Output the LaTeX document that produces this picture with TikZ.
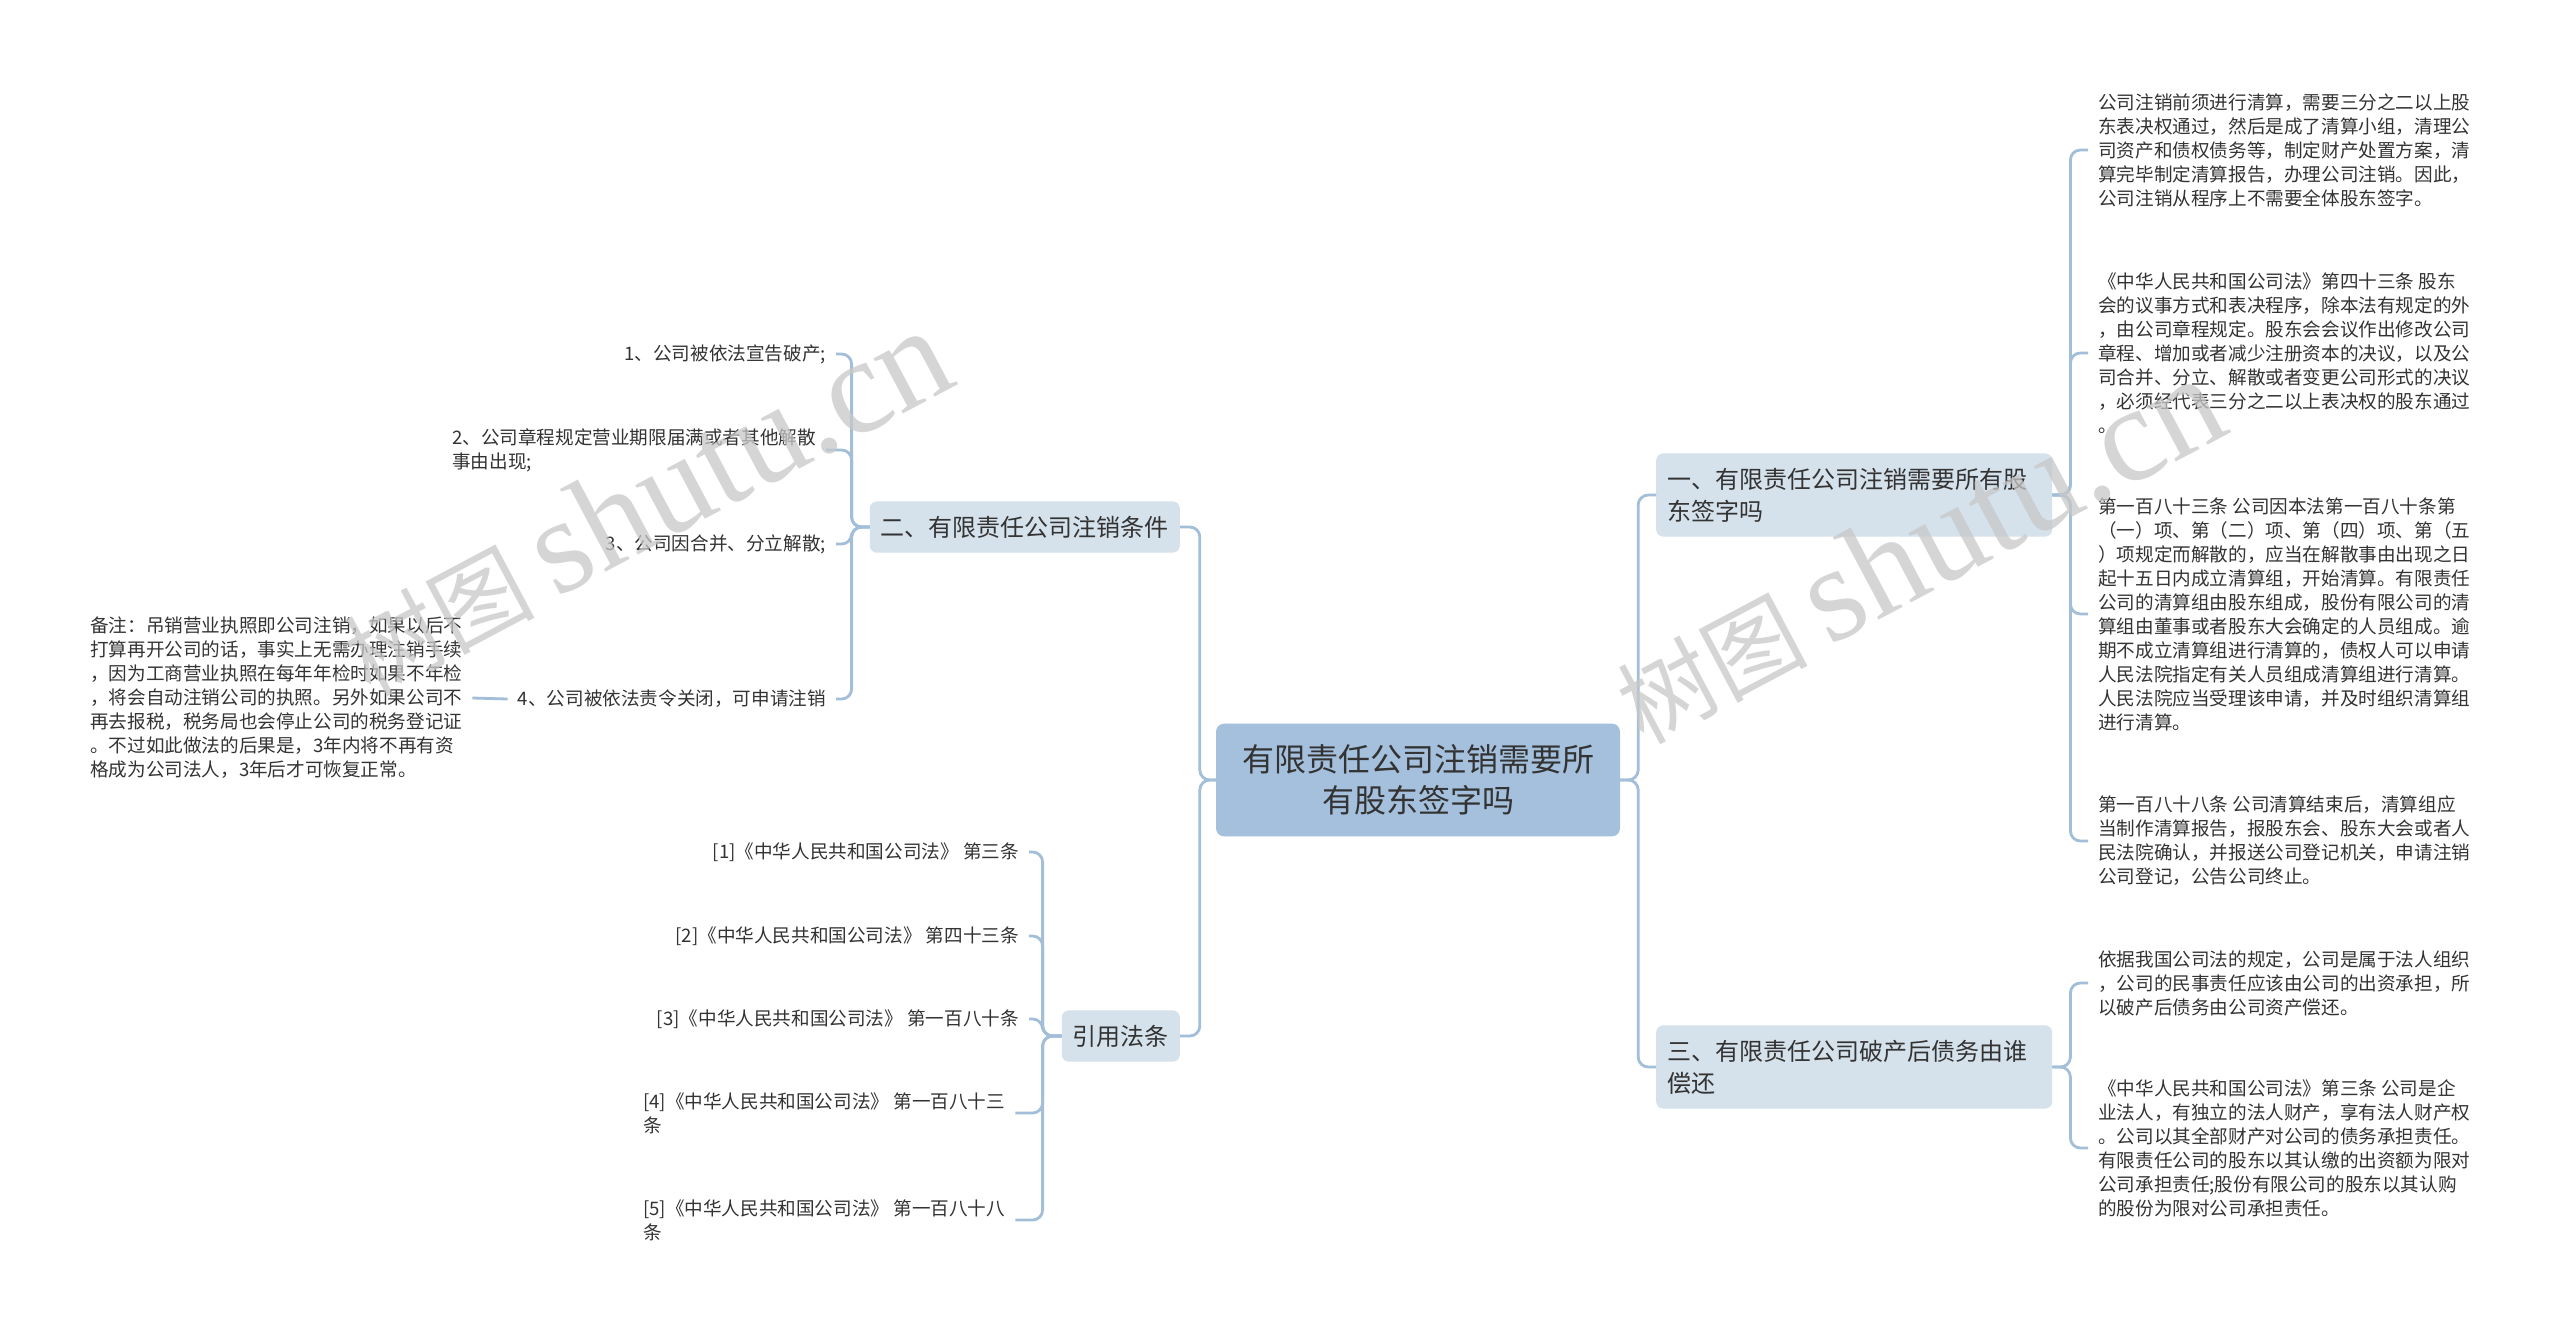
\documentclass[tikz,border=0pt]{standalone}
\usepackage{fontspec}
\setmainfont{Noto Sans CJK SC}
\newfontfamily\wmfont{Liberation Serif}
\usepackage{xcolor}
\definecolor{rootcolor}{RGB}{164,192,220}
\definecolor{branchcolor}{RGB}{213,225,235}
\definecolor{linecolor}{RGB}{162,190,216}
\definecolor{textcolor}{RGB}{51,51,51}
\definecolor{markcolor}{RGB}{200,200,200}

\begin{document}
\begin{tikzpicture}[
    x=1pt, y=-1pt,
    rootnode/.style={fill=rootcolor, rounded corners=8pt, align=center, inner xsep=26pt, inner ysep=21pt, text=textcolor, font=\fontsize{32}{41}\selectfont},
    branchnode/.style={fill=branchcolor, rounded corners=7pt, align=left, inner xsep=11pt, inner ysep=14.5pt, text=textcolor, font=\fontsize{24}{32}\selectfont},
    leafnode/.style={align=left, inner xsep=10pt, inner ysep=3pt, text=textcolor, font=\fontsize{18.6}{24}\selectfont},
    conn/.style={draw=linecolor, line width=2.8pt, rounded corners=10pt},
    watermark/.style={rotate=28, text=markcolor, opacity=0.75, inner sep=0pt}
]
\useasboundingbox[fill=white] (0,0) rectangle (2560,1333);

\node[rootnode] (root) at (1418,780) {有限责任公司注销需要所\\有股东签字吗};

\node[branchnode, anchor=west, text width=374pt] (b1) at (1656,495) {一、有限责任公司注销需要所有股\\东签字吗};
\node[branchnode, anchor=west, text width=374pt] (b3) at (1656,1067) {三、有限责任公司破产后债务由谁\\偿还};
\node[branchnode, anchor=east] (b2) at (1180,527) {二、有限责任公司注销条件};
\node[branchnode, anchor=east] (b4) at (1180,1036) {引用法条};

\node[leafnode, anchor=west] (r1) at (2088,150) {公司注销前须进行清算，需要三分之二以上股\\东表决权通过，然后是成了清算小组，清理公\\司资产和债权债务等，制定财产处置方案，清\\算完毕制定清算报告，办理公司注销。因此，\\公司注销从程序上不需要全体股东签字。};
\node[leafnode, anchor=west] (r2) at (2088,353) {《中华人民共和国公司法》第四十三条 股东\\会的议事方式和表决程序，除本法有规定的外\\，由公司章程规定。股东会会议作出修改公司\\章程、增加或者减少注册资本的决议，以及公\\司合并、分立、解散或者变更公司形式的决议\\，必须经代表三分之二以上表决权的股东通过\\。};
\node[leafnode, anchor=west] (r3) at (2088,614) {第一百八十三条 公司因本法第一百八十条第\\（一）项、第（二）项、第（四）项、第（五\\）项规定而解散的，应当在解散事由出现之日\\起十五日内成立清算组，开始清算。有限责任\\公司的清算组由股东组成，股份有限公司的清\\算组由董事或者股东大会确定的人员组成。逾\\期不成立清算组进行清算的，债权人可以申请\\人民法院指定有关人员组成清算组进行清算。\\人民法院应当受理该申请，并及时组织清算组\\进行清算。};
\node[leafnode, anchor=west] (r4) at (2088,841) {第一百八十八条 公司清算结束后，清算组应\\当制作清算报告，报股东会、股东大会或者人\\民法院确认，并报送公司登记机关，申请注销\\公司登记，公告公司终止。};
\node[leafnode, anchor=west] (r5) at (2088,983) {依据我国公司法的规定，公司是属于法人组织\\，公司的民事责任应该由公司的出资承担，所\\以破产后债务由公司资产偿还。};
\node[leafnode, anchor=west] (r6) at (2088,1148) {《中华人民共和国公司法》第三条 公司是企\\业法人，有独立的法人财产，享有法人财产权\\。公司以其全部财产对公司的债务承担责任。\\有限责任公司的股东以其认缴的出资额为限对\\公司承担责任;股份有限公司的股东以其认购\\的股份为限对公司承担责任。};

\node[leafnode, anchor=east] (l1) at (836,354) {1、公司被依法宣告破产;};
\node[leafnode, anchor=west] (l2) at (442,450) {2、公司章程规定营业期限届满或者其他解散\\事由出现;};
\node[leafnode, anchor=east] (l3) at (836,544) {3、公司因合并、分立解散;};
\node[leafnode, anchor=east] (l4) at (836,699) {4、公司被依法责令关闭，可申请注销};
\node[leafnode, anchor=west] (note) at (80,698) {备注：吊销营业执照即公司注销，如果以后不\\打算再开公司的话，事实上无需办理注销手续\\，因为工商营业执照在每年年检时如果不年检\\，将会自动注销公司的执照。另外如果公司不\\再去报税，税务局也会停止公司的税务登记证\\。不过如此做法的后果是，3年内将不再有资\\格成为公司法人，3年后才可恢复正常。};

\node[leafnode, anchor=east] (c1) at (1029,852) {[1]《中华人民共和国公司法》 第三条};
\node[leafnode, anchor=east] (c2) at (1029,936) {[2]《中华人民共和国公司法》 第四十三条};
\node[leafnode, anchor=east] (c3) at (1029,1019) {[3]《中华人民共和国公司法》 第一百八十条};
\node[leafnode, anchor=west] (c4) at (633,1113) {[4]《中华人民共和国公司法》 第一百八十三\\条};
\node[leafnode, anchor=west] (c5) at (633,1220) {[5]《中华人民共和国公司法》 第一百八十八\\条};

\draw[conn] (root.east) -- ++(18,0) |- (b1.west);
\draw[conn] (root.east) -- ++(18,0) |- (b3.west);
\draw[conn] (root.west) -- ++(-16,0) |- (b2.east);
\draw[conn] (root.west) -- ++(-16,0) |- (b4.east);

\foreach \leaf in {r1,r2,r3,r4}
  \draw[conn] (b1.east) -- ++(18,0) |- (\leaf.west);
\foreach \leaf in {r5,r6}
  \draw[conn] (b3.east) -- ++(18,0) |- (\leaf.west);
\foreach \leaf in {l1,l2,l3,l4}
  \draw[conn] (b2.west) -- ++(-18,0) |- (\leaf.east);
\foreach \leaf in {c1,c2,c3,c4,c5}
  \draw[conn] (b4.west) -- ++(-19,0) |- (\leaf.east);
\draw[conn] (l4.west) -- (note.east);

\node[watermark] (wm1) at (645,502) {\fontsize{95}{95}\selectfont 树图 {\wmfont\fontsize{136}{136}\selectfont shutu.cn}};
\node[watermark] (wm2) at (1918,550) {\fontsize{95}{95}\selectfont 树图 {\wmfont\fontsize{136}{136}\selectfont shutu.cn}};
\end{tikzpicture}
\end{document}
